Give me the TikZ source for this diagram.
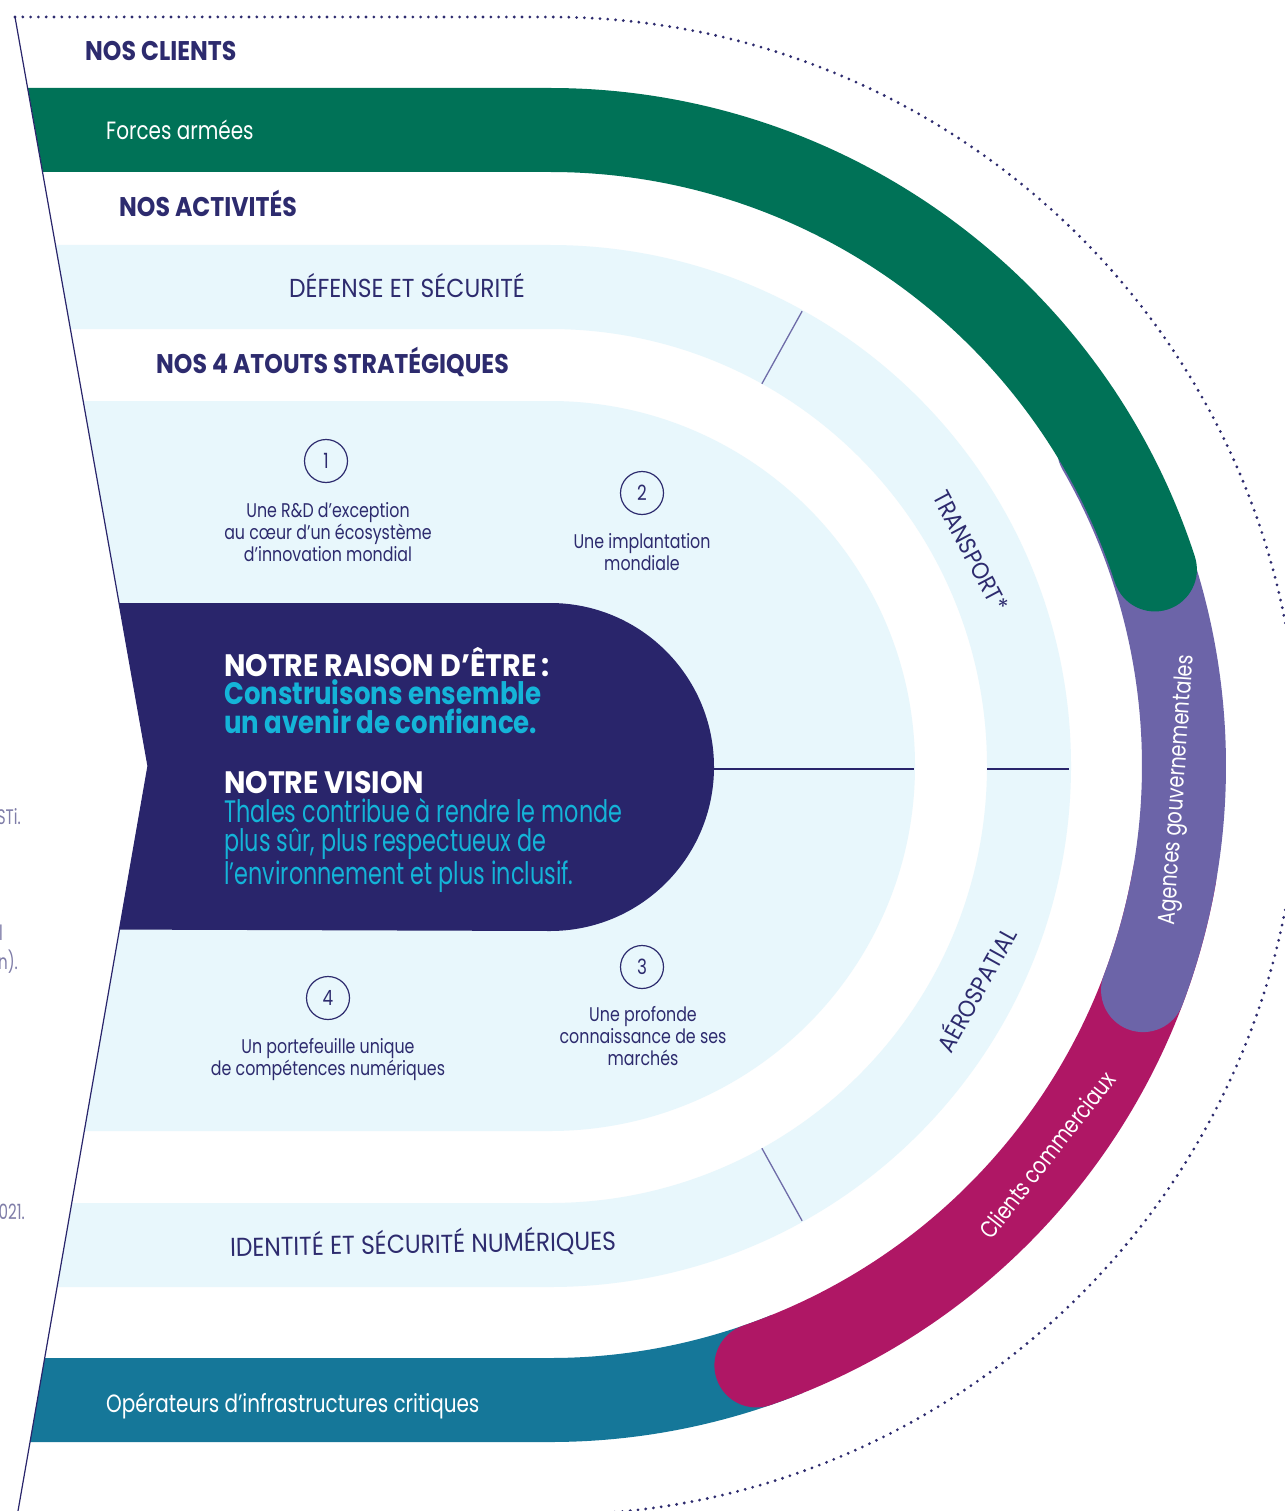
\documentclass[tikz,border=0pt]{standalone}
\usepackage{fontspec}
\newfontfamily\pop[FakeStretch=0.8]{Poppins}
\newfontfamily\pophead[FakeStretch=0.875]{Poppins}
\newfontfamily\popcaps[FakeStretch=0.9]{Poppins}
\newfontfamily\popwide[FakeStretch=0.92]{Poppins}
\newfontfamily\popmid[FakeStretch=0.84]{Poppins}
\newfontfamily\popnarrow[FakeStretch=0.72]{Poppins}
\definecolor{navy}{HTML}{29256B}
\definecolor{txtnavy}{HTML}{2D2B6E}
\definecolor{lightblue}{HTML}{E8F7FC}
\definecolor{cgreen}{HTML}{007257}
\definecolor{cpurple}{HTML}{6C64A8}
\definecolor{cmagenta}{HTML}{AF1765}
\definecolor{cteal}{HTML}{157799}
\definecolor{ccyan}{HTML}{14B4D8}
\definecolor{sepc}{HTML}{6E6CA8}
\definecolor{fragc}{HTML}{7F7DA8}
\tikzset{
  head/.style={font=\pophead\bfseries\fontsize{27}{30}\selectfont, text=txtnavy, anchor=mid west, inner sep=0},
  bandlbl/.style={font=\pop\fontsize{25}{28}\selectfont, text=white, anchor=mid west, inner sep=0},
  actlbl/.style={font=\popcaps\fontsize{26}{30}\selectfont, text=txtnavy, inner sep=0},
  arclbl/.style={font=\popcaps\fontsize{24}{28}\selectfont, text=txtnavy, inner sep=0},
  ringlbl/.style={font=\pop\fontsize{24}{28}\selectfont, text=white, inner sep=0},
  atout/.style={font=\pop\fontsize{19.8}{22}\selectfont, text=txtnavy, align=center, inner sep=0},
  numcirc/.style={circle, draw=txtnavy, line width=1.2pt, minimum size=43pt, inner sep=0pt, font=\pop\fontsize{21}{22}\selectfont, text=txtnavy},
  ring/.style={line width=84pt},
  sepline/.style={draw=sepc, line width=1.3pt},
  frag/.style={font=\popnarrow\fontsize{21}{24}\selectfont, text=fragc, anchor=mid east, inner sep=0},
}
\begin{document}
\begin{tikzpicture}[x=1pt,y=1pt]
\useasboundingbox (0,0) rectangle (1284,-1511);
\fill[white] (0,0) rectangle (1284,-1511);
\coordinate (O) at (550,-766);
% fragments of neighbouring page
\node[frag] (f1) at (21,-822) {STi.};
\node[frag] (f0) at (3,-938) {l};
\node[frag] (f2) at (18,-967) {on).};
\node[frag] (f3) at (25,-1217) {2021.};
% dotted outer arc
\draw[txtnavy, line width=3.1pt, line cap=round, dash pattern=on 0pt off 7.8pt] (15,-17) -- (550,-17) arc (90:-90:749);
\begin{scope}
  \clip (12.3,0) -- (148,-766) -- (18,-1511) -- (1284,-1511) -- (1284,0) -- cycle;
  \begin{scope}[shift={(550,-766)}]
    % activities ring
    \fill[lightblue, even odd rule] (-600,521) -- (0,521) arc (90:-90:521) -- (-600,-521) -- cycle
      (-600,437) -- (0,437) arc (90:-90:437) -- (-600,-437) -- cycle;
    % atouts
    \fill[lightblue] (-600,365) -- (0,365) arc (90:-90:365) -- (-600,-365) -- cycle;
    % separators
    \draw[sepline] (61:437) -- (61:520);
    \draw[sepline] (-61:437) -- (-61:520);
    \draw[navy, line width=1.2pt] (150,-3) -- (364,-3);
    \draw[navy, line width=1.2pt] (437,-3) -- (519,-3);
    % raison d'etre
    \fill[navy] (-600,163) -- (0,163) arc (90:-90:164) -- (-600,-163) -- cycle;
    % client ring
    \draw[ring, cteal] (-620,-634) -- (0,-634) arc (-90:-68:634);
    \draw[ring, cmagenta, line cap=round] (-10:634) arc (-10:-71:634);
    \draw[ring, cpurple, line cap=round] (30:634) arc (30:-20.7:634);
    \draw[ring, cgreen, line cap=round] (-620,636) -- (0,636) arc (90:18:636);
  \end{scope}
\end{scope}
% left border line
\draw[navy, line width=1.2pt] (15,-17) -- (148,-766) -- (18,-1511);
% headings
\node[head] (hclients) at (85,-58) {NOS CLIENTS};
\node[head] (hact) at (119,-214) {NOS ACTIVITÉS};
\node[head] (hatouts) at (156,-371) {NOS 4 ATOUTS STRATÉGIQUES};
% client labels
\node[bandlbl] (forces) at (106,-137) {Forces armées};
\node[bandlbl] (operateurs) at (106,-1410) {Opérateurs d’infrastructures critiques};
\node[ringlbl, rotate=86] (agences) at (1178,-790) {Agences gouvernementales};
\node[ringlbl, rotate=52] (commerciaux) at (1047,-1155) {Clients commerciaux};
% activities labels
\node[actlbl] (defense) at (407,-286) {DÉFENSE ET SÉCURITÉ};
\node[actlbl, rotate=1] (identite) at (423,-1243) {IDENTITÉ ET SÉCURITÉ NUMÉRIQUES};
\node[arclbl, rotate=-62] (transport) at (971,-551) {TRANSPORT*};
\node[arclbl, rotate=61] (aero) at (975,-989) {AÉROSPATIAL};
% atouts
\node[numcirc] (n1) at (326,-461) {1};
\node[numcirc] (n2) at (642,-493) {2};
\node[numcirc] (n3) at (642,-967) {3};
\node[numcirc] (n4) at (328,-998) {4};
\node[atout] (a1) at (328,-532) {Une R\&D d’exception\\au cœur d’un écosystème\\d’innovation mondial};
\node[atout] (a2) at (642,-552) {Une implantation\\mondiale};
\node[atout] (a3) at (643,-1036) {Une profonde\\connaissance de ses\\marchés};
\node[atout] (a4) at (328,-1059) {Un portefeuille unique\\de compétences numériques};
% raison d'etre / vision
\node[anchor=north west, align=left, inner sep=0, font=\fontsize{31}{28.5}\selectfont] (raison) at (224,-647)
  {\textcolor{white}{\popwide\bfseries NOTRE RAISON D’ÊTRE\,:}\\\textcolor{ccyan}{\popmid\bfseries Construisons ensemble}\\\textcolor{ccyan}{\popmid\bfseries un avenir de confiance.}};
\node[anchor=north west, align=left, inner sep=0, font=\popnarrow\fontsize{31}{29}\selectfont, text=ccyan] (vision) at (224,-771)
  {\textcolor{white}{\popwide\bfseries NOTRE VISION}\\Thales contribue à rendre le monde\\plus sûr, plus respectueux de\\l’environnement et plus inclusif.};
\end{tikzpicture}
\end{document}
